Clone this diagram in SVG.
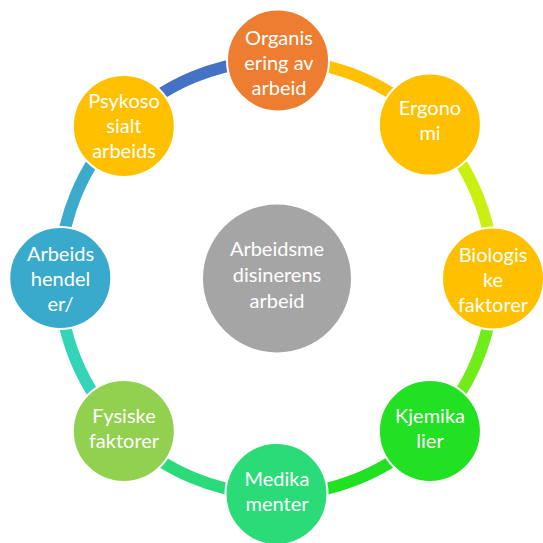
<svg xmlns="http://www.w3.org/2000/svg" width="543" height="543" viewBox="0 0 543 543">
<style>
.arc{fill:none;stroke-width:12}
.node{stroke:#ffffff;stroke-width:2}
.t{font-family:Lato,"Open Sans","Liberation Sans",sans-serif;font-size:20px;fill:#ffffff;text-anchor:middle}
</style>
<rect width="543" height="543" fill="#ffffff"/>
<g id="connectors">
<path class="arc" stroke="#FFC000" d="M276.5 60.5 A217 217 0 0 1 429.9 124.1"/>
<path class="arc" stroke="#C9F00F" d="M429.9 124.1 A217 217 0 0 1 493.5 277.5"/>
<path class="arc" stroke="#70EC1A" d="M493.5 277.5 A217 217 0 0 1 429.9 430.9"/>
<path class="arc" stroke="#22E022" d="M429.9 430.9 A217 217 0 0 1 276.5 494.5"/>
<path class="arc" stroke="#2BDB7A" d="M276.5 494.5 A217 217 0 0 1 123.1 430.9"/>
<path class="arc" stroke="#33D4B8" d="M123.1 430.9 A217 217 0 0 1 59.5 277.5"/>
<path class="arc" stroke="#3CAACB" d="M59.5 277.5 A217 217 0 0 1 123.1 124.1"/>
<path class="arc" stroke="#4472C4" d="M123.1 124.1 A217 217 0 0 1 276.5 60.5"/>
</g>
<g id="center">
<circle cx="277" cy="278.5" r="74" fill="#A5A5A5"/>
<text class="t" x="277" y="256">Arbeidsme</text>
<text class="t" x="277" y="282">disinerens</text>
<text class="t" x="277" y="308">arbeid</text>
</g>
<g id="organisering">
<circle class="node" cx="278" cy="60.5" r="51" fill="#ED7D31"/>
<text class="t" x="279" y="45">Organis</text>
<text class="t" x="279" y="70">ering av</text>
<text class="t" x="279" y="95">arbeid</text>
</g>
<g id="ergonomi">
<circle class="node" cx="429.9" cy="124.6" r="51" fill="#FFC000"/>
<text class="t" x="430" y="115">Ergono</text>
<text class="t" x="430" y="140">mi</text>
</g>
<g id="biologiske">
<circle class="node" cx="493" cy="278.5" r="51" fill="#FFC000"/>
<text class="t" x="493" y="262">Biologis</text>
<text class="t" x="493" y="287">ke</text>
<text class="t" x="493" y="312">faktorer</text>
</g>
<g id="kjemikalier">
<circle class="node" cx="429.9" cy="431" r="51" fill="#22E022"/>
<text class="t" x="430" y="423">Kjemika</text>
<text class="t" x="430" y="448">lier</text>
</g>
<g id="medikamenter">
<circle class="node" cx="276.5" cy="494" r="51" fill="#2ADB78"/>
<text class="t" x="277" y="486">Medika</text>
<text class="t" x="277" y="511">menter</text>
</g>
<g id="fysiske">
<circle class="node" cx="123.8" cy="431" r="51" fill="#92D050"/>
<text class="t" x="124" y="423">Fysiske</text>
<text class="t" x="124" y="448">faktorer</text>
</g>
<g id="arbeidshendeler">
<circle class="node" cx="60.3" cy="278" r="51" fill="#3AAACC"/>
<text class="t" x="60.5" y="261">Arbeids</text>
<text class="t" x="60.5" y="286">hendel</text>
<text class="t" x="60.5" y="311">er/</text>
</g>
<g id="psykososialt">
<circle class="node" cx="123.8" cy="126" r="51" fill="#FFC000"/>
<text class="t" x="124" y="108">Psykoso</text>
<text class="t" x="124" y="133">sialt</text>
<text class="t" x="124" y="158">arbeids</text>
</g>
</svg>
